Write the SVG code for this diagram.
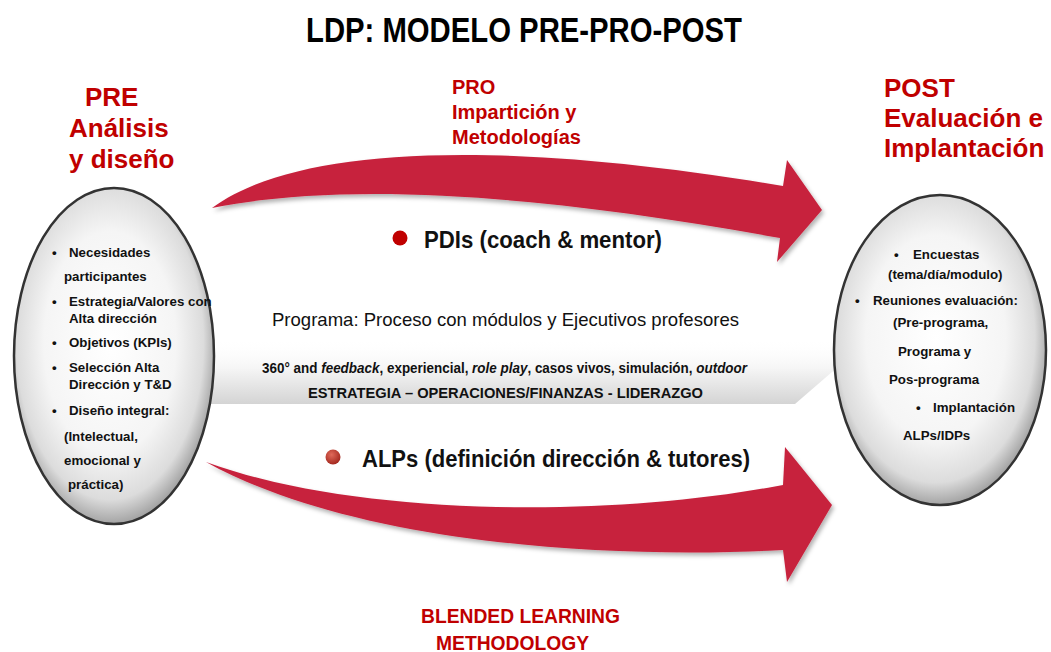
<svg xmlns="http://www.w3.org/2000/svg" width="1051" height="652" viewBox="0 0 1051 652">
<defs>
<style>
text{font-family:"Liberation Sans",Arial,sans-serif;}
.title{font-size:35px;font-weight:bold;fill:#000;}
.red{fill:#c00000;font-weight:bold;}
.big{font-size:26px;}
.mid{font-size:20px;}
.el{font-size:13.3px;font-weight:bold;fill:#111;}
.sub{font-size:24px;font-weight:bold;fill:#111;}
.prog{font-size:19px;fill:#111;}
.small{font-size:15px;font-weight:bold;fill:#111;}
.it{font-style:italic;}
.arrow{fill:#c7223d;filter:url(#sh);}
.oval{fill:url(#ovalGrad);stroke:#333;stroke-width:2.5;}
</style>
<radialGradient id="ovalGrad" cx="48%" cy="46%" r="55%">
<stop offset="0" stop-color="#ffffff"/>
<stop offset="0.6" stop-color="#f5f5f5"/>
<stop offset="0.85" stop-color="#dcdcdc"/>
<stop offset="1" stop-color="#9c9c9c"/>
</radialGradient>
<linearGradient id="bandGrad" x1="0" y1="0" x2="0" y2="1">
<stop offset="0" stop-color="#ffffff" stop-opacity="0"/>
<stop offset="0.45" stop-color="#f6f6f6"/>
<stop offset="1" stop-color="#d4d4d4"/>
</linearGradient>
<radialGradient id="dot2" cx="40%" cy="35%" r="65%">
<stop offset="0" stop-color="#e06a5a"/>
<stop offset="1" stop-color="#a52a20"/>
</radialGradient>
<filter id="sh" x="-10%" y="-20%" width="120%" height="150%">
<feDropShadow dx="2" dy="3" stdDeviation="2" flood-color="#000" flood-opacity="0.3"/>
</filter>
</defs>
<rect width="1051" height="652" fill="#ffffff"/>

<g id="title">
<text class="title" x="306" y="42" textLength="436" lengthAdjust="spacingAndGlyphs">LDP: MODELO PRE-PRO-POST</text>
</g>

<g id="band">
<polygon points="200,338 885,338 832,372 795,404 200,404" fill="url(#bandGrad)"/>
</g>

<g id="pre-label">
<text class="red big" x="85" y="106">PRE</text>
<text class="red big" x="69" y="137">Análisis</text>
<text class="red big" x="69" y="168">y diseño</text>
</g>

<g id="pro-label">
<text class="red mid" x="452" y="94">PRO</text>
<text class="red mid" x="452" y="119">Impartición y</text>
<text class="red mid" x="452" y="144">Metodologías</text>
</g>

<g id="post-label">
<text class="red big" x="884" y="97">POST</text>
<text class="red big" x="884" y="127">Evaluación e</text>
<text class="red big" x="884" y="157">Implantación</text>
</g>

<g id="pre-node">
<ellipse class="oval" cx="114" cy="356" rx="100" ry="168"/>
<text class="el" x="52" y="257">•</text><text class="el" x="69" y="257">Necesidades</text>
<text class="el" x="64" y="281">participantes</text>
<text class="el" x="52" y="306">•</text><text class="el" x="69" y="306">Estrategia/Valores con</text>
<text class="el" x="69" y="323">Alta dirección</text>
<text class="el" x="52" y="347">•</text><text class="el" x="69" y="347">Objetivos (KPIs)</text>
<text class="el" x="52" y="372">•</text><text class="el" x="69" y="372">Selección Alta</text>
<text class="el" x="69" y="389">Dirección y T&amp;D</text>
<text class="el" x="52" y="415">•</text><text class="el" x="69" y="415">Diseño integral:</text>
<text class="el" x="64" y="441">(Intelectual,</text>
<text class="el" x="64" y="465">emocional y</text>
<text class="el" x="68" y="489">práctica)</text>
</g>

<g id="post-node">
<ellipse class="oval" cx="940" cy="350" rx="106" ry="155"/>
<text class="el" x="894" y="259">•</text><text class="el" x="913" y="259">Encuestas</text>
<text class="el" x="888" y="279">(tema/día/modulo)</text>
<text class="el" x="855" y="305">•</text><text class="el" x="873" y="305">Reuniones evaluación:</text>
<text class="el" x="893" y="327">(Pre-programa,</text>
<text class="el" x="898" y="356">Programa y</text>
<text class="el" x="889" y="384">Pos-programa</text>
<text class="el" x="916" y="412">•</text><text class="el" x="933" y="412">Implantación</text>
<text class="el" x="903" y="440">ALPs/IDPs</text>
</g>

<g id="connectors">
<path class="arrow" d="M212,208 C290,150 480,135 783,186 L787,160 L822,210 L777,262 L780,238 C550,196 350,180 212,208 Z"/>
<path class="arrow" d="M206,462 C350,515 600,520 783,485 L785,447 L832,505 L787,582 L783,550 C600,560 350,542 206,462 Z"/>
</g>

<g id="pdis">
<circle cx="400" cy="238" r="7.5" fill="#c00000"/>
<text class="sub" x="424" y="248" textLength="238" lengthAdjust="spacingAndGlyphs">PDIs (coach &amp; mentor)</text>
</g>

<g id="programa">
<text class="prog" x="272" y="326" textLength="467" lengthAdjust="spacingAndGlyphs">Programa: Proceso con módulos y Ejecutivos profesores</text>
<text class="small" transform="translate(262,373) scale(0.897,1)" x="0" y="0">360° and <tspan class="it">feedback</tspan>, experiencial, <tspan class="it">role play</tspan>, casos vivos, simulación, <tspan class="it">outdoor</tspan></text>
<text class="small" x="308" y="398" textLength="395" lengthAdjust="spacingAndGlyphs">ESTRATEGIA – OPERACIONES/FINANZAS - LIDERAZGO</text>
</g>

<g id="alps">
<circle cx="333" cy="457" r="7.5" fill="url(#dot2)"/>
<text class="sub" x="362" y="467" textLength="388" lengthAdjust="spacingAndGlyphs">ALPs (definición dirección &amp; tutores)</text>
</g>

<g id="blended">
<text class="red" font-size="21" x="421" y="623" textLength="199" lengthAdjust="spacingAndGlyphs">BLENDED LEARNING</text>
<text class="red" font-size="21" x="436" y="650" textLength="153" lengthAdjust="spacingAndGlyphs">METHODOLOGY</text>
</g>
</svg>
